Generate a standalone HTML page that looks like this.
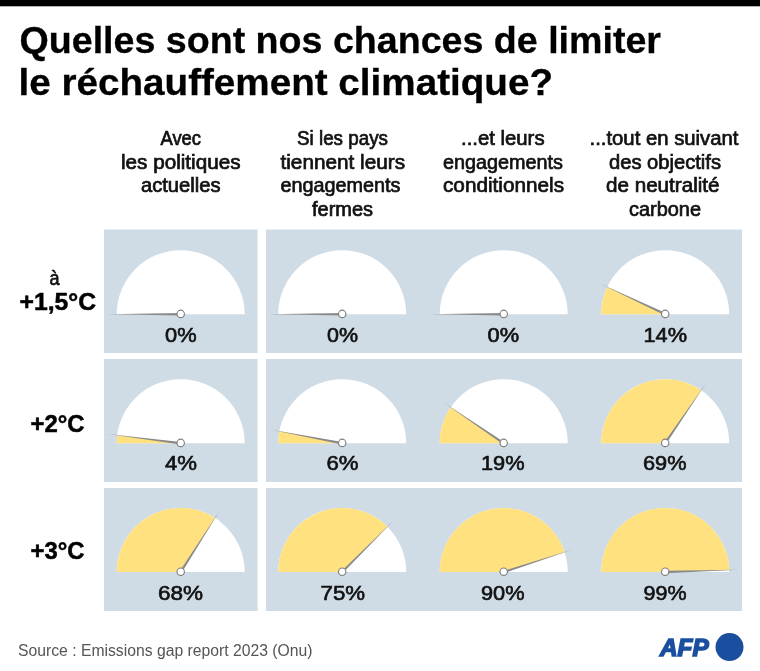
<!DOCTYPE html>
<html lang="fr"><head><meta charset="utf-8"><title>Quelles sont nos chances de limiter le réchauffement climatique?</title>
<style>
html,body{margin:0;padding:0;background:#fff}
body{width:760px;height:671px;overflow:hidden}
svg{display:block}
text{font-family:"Liberation Sans", sans-serif;white-space:pre}
.t{font-weight:700;fill:#000;stroke:#000;stroke-width:.3px}
.h{font-weight:400;fill:#111;stroke:#111;stroke-width:.7px}
.p{font-weight:400;fill:#111;stroke:#111;stroke-width:.65px}
.r{font-weight:700;fill:#000;stroke:#000;stroke-width:.5px}
.s{font-weight:400;fill:#555}
.a{font-weight:700;font-style:italic;fill:#1a4f9f;stroke:#1a4f9f;stroke-width:1.5px;stroke-linejoin:miter}
</style></head><body>
<svg width="760" height="671" viewBox="0 0 760 671">
<rect x="0" y="0" width="760" height="6.3" fill="#000"/>
<rect x="104" y="229.5" width="153.6" height="123.5" fill="#cfdce5"/>
<rect x="266" y="229.5" width="476" height="123.5" fill="#cfdce5"/>
<rect x="104" y="359" width="153.6" height="123" fill="#cfdce5"/>
<rect x="266" y="359" width="476" height="123" fill="#cfdce5"/>
<rect x="104" y="488" width="153.6" height="123" fill="#cfdce5"/>
<rect x="266" y="488" width="476" height="123" fill="#cfdce5"/>
<path d="M116.7 314.2A64 64 0 0 1 244.7 314.2Z" fill="#fff"/>
<path d="M180.70 315.40L107.20 314.20L180.70 313.00Z" fill="#8a8a8a"/>
<circle cx="180.7" cy="313.9" r="3.7" fill="#fff" stroke="#808080" stroke-width="1.15"/>
<path d="M278.2 314.2A64 64 0 0 1 406.2 314.2Z" fill="#fff"/>
<path d="M342.20 315.40L268.70 314.20L342.20 313.00Z" fill="#8a8a8a"/>
<circle cx="342.2" cy="313.9" r="3.7" fill="#fff" stroke="#808080" stroke-width="1.15"/>
<path d="M439.7 314.2A64 64 0 0 1 567.7 314.2Z" fill="#fff"/>
<path d="M503.70 315.40L430.20 314.20L503.70 313.00Z" fill="#8a8a8a"/>
<circle cx="503.7" cy="313.9" r="3.7" fill="#fff" stroke="#808080" stroke-width="1.15"/>
<path d="M601.2 314.2A64 64 0 0 1 729.2 314.2Z" fill="#fff"/>
<path d="M665.2 314.2L601.2 314.2A64 64 0 0 1 607.29 286.95Z" fill="#ffe17f"/>
<path d="M664.69 315.29L598.70 282.91L665.71 313.11Z" fill="#8a8a8a"/>
<circle cx="665.2" cy="313.9" r="3.7" fill="#fff" stroke="#808080" stroke-width="1.15"/>
<path d="M116.7 443.2A64 64 0 0 1 244.7 443.2Z" fill="#fff"/>
<path d="M180.7 443.2L116.7 443.2A64 64 0 0 1 117.20 435.18Z" fill="#ffe17f"/>
<path d="M180.55 444.39L107.78 433.99L180.85 442.01Z" fill="#8a8a8a"/>
<circle cx="180.7" cy="442.9" r="3.7" fill="#fff" stroke="#808080" stroke-width="1.15"/>
<path d="M278.2 443.2A64 64 0 0 1 406.2 443.2Z" fill="#fff"/>
<path d="M342.2 443.2L278.2 443.2A64 64 0 0 1 279.33 431.21Z" fill="#ffe17f"/>
<path d="M341.98 444.38L270.00 429.43L342.42 442.02Z" fill="#8a8a8a"/>
<circle cx="342.2" cy="442.9" r="3.7" fill="#fff" stroke="#808080" stroke-width="1.15"/>
<path d="M439.7 443.2A64 64 0 0 1 567.7 443.2Z" fill="#fff"/>
<path d="M503.7 443.2L439.7 443.2A64 64 0 0 1 450.77 407.23Z" fill="#ffe17f"/>
<path d="M503.03 444.19L442.91 401.89L504.37 442.21Z" fill="#8a8a8a"/>
<circle cx="503.7" cy="442.9" r="3.7" fill="#fff" stroke="#808080" stroke-width="1.15"/>
<path d="M601.2 443.2A64 64 0 0 1 729.2 443.2Z" fill="#fff"/>
<path d="M665.2 443.2L601.2 443.2A64 64 0 0 1 701.17 390.27Z" fill="#ffe17f"/>
<path d="M664.21 442.53L706.51 382.41L666.19 443.87Z" fill="#8a8a8a"/>
<circle cx="665.2" cy="442.9" r="3.7" fill="#fff" stroke="#808080" stroke-width="1.15"/>
<path d="M116.7 572.0A64 64 0 0 1 244.7 572.0Z" fill="#fff"/>
<path d="M180.7 572.0L116.7 572.0A64 64 0 0 1 214.99 517.96Z" fill="#ffe17f"/>
<path d="M179.69 571.36L220.08 509.94L181.71 572.64Z" fill="#8a8a8a"/>
<circle cx="180.7" cy="571.7" r="3.7" fill="#fff" stroke="#808080" stroke-width="1.15"/>
<path d="M278.2 572.0A64 64 0 0 1 406.2 572.0Z" fill="#fff"/>
<path d="M342.2 572.0L278.2 572.0A64 64 0 0 1 387.45 526.75Z" fill="#ffe17f"/>
<path d="M341.35 571.15L394.17 520.03L343.05 572.85Z" fill="#8a8a8a"/>
<circle cx="342.2" cy="571.7" r="3.7" fill="#fff" stroke="#808080" stroke-width="1.15"/>
<path d="M439.7 572.0A64 64 0 0 1 567.7 572.0Z" fill="#fff"/>
<path d="M503.7 572.0L439.7 572.0A64 64 0 0 1 564.57 552.22Z" fill="#ffe17f"/>
<path d="M503.33 570.86L573.60 549.29L504.07 573.14Z" fill="#8a8a8a"/>
<circle cx="503.7" cy="571.7" r="3.7" fill="#fff" stroke="#808080" stroke-width="1.15"/>
<path d="M601.2 572.0A64 64 0 0 1 729.2 572.0Z" fill="#fff"/>
<path d="M665.2 572.0L601.2 572.0A64 64 0 0 1 729.17 569.99Z" fill="#ffe17f"/>
<path d="M665.16 570.80L738.66 569.69L665.24 573.20Z" fill="#8a8a8a"/>
<circle cx="665.2" cy="571.7" r="3.7" fill="#fff" stroke="#808080" stroke-width="1.15"/>
<text class="t" x="19.50" y="53.2" font-size="37.5" textLength="641.50" lengthAdjust="spacingAndGlyphs">Quelles sont nos chances de limiter</text>
<text class="t" x="18.50" y="95.2" font-size="37.5" textLength="534.53" lengthAdjust="spacingAndGlyphs">le réchauffement climatique?</text>
<text class="h" x="160.50" y="145.1" font-size="20" textLength="40.52" lengthAdjust="spacingAndGlyphs">Avec</text>
<text class="h" x="121.00" y="168.5" font-size="20" textLength="119.51" lengthAdjust="spacingAndGlyphs">les politiques</text>
<text class="h" x="141.00" y="192.0" font-size="20" textLength="79.51" lengthAdjust="spacingAndGlyphs">actuelles</text>
<text class="h" x="297.00" y="145.1" font-size="20" textLength="91.00" lengthAdjust="spacingAndGlyphs">Si les pays</text>
<text class="h" x="280.50" y="168.5" font-size="20" textLength="124.50" lengthAdjust="spacingAndGlyphs">tiennent leurs</text>
<text class="h" x="280.50" y="192.0" font-size="20" textLength="120.01" lengthAdjust="spacingAndGlyphs">engagements</text>
<text class="h" x="312.00" y="215.9" font-size="20" textLength="61.01" lengthAdjust="spacingAndGlyphs">fermes</text>
<text class="h" x="461.00" y="145.1" font-size="20" textLength="83.55" lengthAdjust="spacingAndGlyphs">...et leurs</text>
<text class="h" x="443.00" y="168.5" font-size="20" textLength="120.01" lengthAdjust="spacingAndGlyphs">engagements</text>
<text class="h" x="443.00" y="192.0" font-size="20" textLength="121.01" lengthAdjust="spacingAndGlyphs">conditionnels</text>
<text class="h" x="589.50" y="145.1" font-size="20" textLength="149.00" lengthAdjust="spacingAndGlyphs">...tout en suivant</text>
<text class="h" x="609.00" y="168.5" font-size="20" textLength="112.00" lengthAdjust="spacingAndGlyphs">des objectifs</text>
<text class="h" x="606.00" y="192.0" font-size="20" textLength="113.50" lengthAdjust="spacingAndGlyphs">de neutralité</text>
<text class="h" x="629.00" y="215.9" font-size="20" textLength="72.01" lengthAdjust="spacingAndGlyphs">carbone</text>
<text class="p" x="165.00" y="341.5" font-size="20.8" textLength="31.53" lengthAdjust="spacingAndGlyphs">0%</text>
<text class="p" x="327.00" y="341.5" font-size="20.8" textLength="31.01" lengthAdjust="spacingAndGlyphs">0%</text>
<text class="p" x="487.50" y="341.5" font-size="20.8" textLength="31.52" lengthAdjust="spacingAndGlyphs">0%</text>
<text class="p" x="643.50" y="341.5" font-size="20.8" textLength="43.55" lengthAdjust="spacingAndGlyphs">14%</text>
<text class="p" x="165.00" y="470.4" font-size="20.8" textLength="32.04" lengthAdjust="spacingAndGlyphs">4%</text>
<text class="p" x="326.50" y="470.4" font-size="20.8" textLength="32.05" lengthAdjust="spacingAndGlyphs">6%</text>
<text class="p" x="481.00" y="470.4" font-size="20.8" textLength="43.56" lengthAdjust="spacingAndGlyphs">19%</text>
<text class="p" x="643.00" y="470.4" font-size="20.8" textLength="43.51" lengthAdjust="spacingAndGlyphs">69%</text>
<text class="p" x="158.00" y="599.8" font-size="20.8" textLength="45.03" lengthAdjust="spacingAndGlyphs">68%</text>
<text class="p" x="320.50" y="599.8" font-size="20.8" textLength="44.56" lengthAdjust="spacingAndGlyphs">75%</text>
<text class="p" x="481.00" y="599.8" font-size="20.8" textLength="43.55" lengthAdjust="spacingAndGlyphs">90%</text>
<text class="p" x="643.50" y="599.8" font-size="20.8" textLength="43.01" lengthAdjust="spacingAndGlyphs">99%</text>
<text class="h" x="49.50" y="285.0" font-size="20" textLength="10.05" lengthAdjust="spacingAndGlyphs">à</text>
<text class="r" x="19.50" y="309.7" font-size="23.5" textLength="76.52" lengthAdjust="spacingAndGlyphs">+1,5°C</text>
<text class="r" x="30.50" y="431.6" font-size="23.5" textLength="54.01" lengthAdjust="spacingAndGlyphs">+2°C</text>
<text class="r" x="30.50" y="559.3" font-size="23.5" textLength="54.01" lengthAdjust="spacingAndGlyphs">+3°C</text>
<text class="s" x="18.00" y="656.1" font-size="17.3" textLength="294.51" lengthAdjust="spacingAndGlyphs">Source : Emissions gap report 2023 (Onu)</text>
<text class="a" x="660.00" y="655.7" font-size="23.0" textLength="48.67" lengthAdjust="spacingAndGlyphs">AFP</text>
<circle cx="729.5" cy="647.1" r="14" fill="#1a4f9f"/>
</svg></body></html>
